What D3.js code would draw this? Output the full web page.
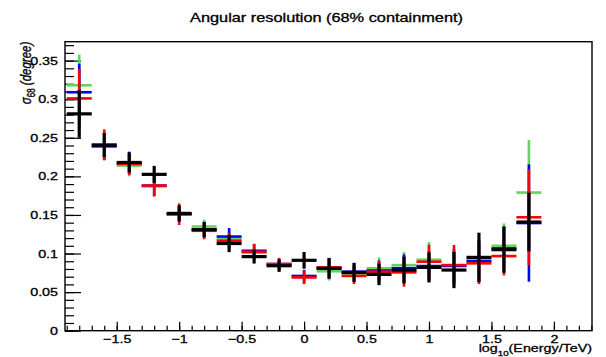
<!DOCTYPE html>
<html>
<head>
<meta charset="utf-8">
<script src="https://cdn.jsdelivr.net/npm/d3@7"></script>
<style>
    body { margin: 0; background: #fff; }
    svg { display: block; }
    text { font-family: "Liberation Sans", Arial, sans-serif; fill: #000; stroke: #000; stroke-width: 0.3; }
</style>
</head>
<body>
<div id="chart"></div>
<script>
// log10(Energy/TeV) bin centres
const energy = [-1.8, -1.6, -1.4, -1.2, -1.0, -0.8, -0.6, -0.4, -0.2, 0.0,
                0.2, 0.4, 0.6, 0.8, 1.0, 1.2, 1.4, 1.6, 1.8];
const binHalfWidth = 0.1;

// sigma_68 values and errors, one pair of arrays per series
const greenVal = [0.318, 0.239, 0.214, 0.187, 0.151, 0.135, 0.119, 0.101, 0.085, 0.070,
                  0.077, 0.074, 0.081, 0.085, 0.092, 0.084, 0.092, 0.110, 0.179];
const greenErr = [0.040, 0.018, 0.014, 0.013, 0.009, 0.009, 0.010, 0.008, 0.007, 0.008,
                  0.012, 0.010, 0.014, 0.017, 0.023, 0.020, 0.025, 0.029, 0.068];

const blueVal = [0.309, 0.239, 0.217, 0.188, 0.151, 0.131, 0.122, 0.1036, 0.0864, 0.0709,
                 0.081, 0.0765, 0.078, 0.081, 0.0838, 0.084, 0.090, 0.1067, 0.1395];
const blueErr = [0.037, 0.018, 0.015, 0.013, 0.010, 0.010, 0.011, 0.009, 0.007, 0.008,
                 0.013, 0.011, 0.013, 0.018, 0.020, 0.022, 0.027, 0.028, 0.076];

const redVal = [0.301, 0.241, 0.216, 0.188, 0.151, 0.1295, 0.1166, 0.1023, 0.0864, 0.069,
                0.082, 0.071, 0.0765, 0.0756, 0.0894, 0.085, 0.0873, 0.0967, 0.147];
const redErr = [0.038, 0.020, 0.014, 0.014, 0.014, 0.011, 0.010, 0.010, 0.008, 0.0087,
                0.012, 0.0105, 0.014, 0.0186, 0.022, 0.026, 0.027, 0.025, 0.062];

const blackVal = [0.281, 0.2405, 0.218, 0.2026, 0.152, 0.131, 0.113, 0.096, 0.0842, 0.0912,
                  0.0808, 0.0755, 0.073, 0.0786, 0.082, 0.0786, 0.095, 0.105, 0.1408];
const blackErr = [0.031, 0.0155, 0.013, 0.011, 0.0105, 0.010, 0.0112, 0.009, 0.008, 0.0108,
                  0.0135, 0.0125, 0.014, 0.0174, 0.0195, 0.0235, 0.032, 0.030, 0.038];

const xTicks = [-1.5, -1, -0.5, 0, 0.5, 1, 1.5, 2];
const yTicks = [0, 0.05, 0.1, 0.15, 0.2, 0.25, 0.3, 0.35];

// drawing order: green under, black on top
const series = [
    { color: '#5fd75f', width: 2.6, values: greenVal, errors: greenErr },
    { color: '#0000ff', width: 2.6, values: blueVal,  errors: blueErr },
    { color: '#ff0000', width: 2.6, values: redVal,   errors: redErr },
    { color: '#000000', width: 3.2, values: blackVal, errors: blackErr }
];

const W = 606, H = 357;
const frame = { left: 65, right: 592, top: 41.7, bottom: 330.7 };
// the picture's text is drawn wide, so glyphs get stretched sideways
const stretch = 1.3;

const x = d3.scaleLinear().domain([-1.914, 2.305]).range([frame.left, frame.right]);
const y = d3.scaleLinear().domain([0, 0.3745]).range([frame.bottom, frame.top]);

const svg = d3.select('#chart').append('svg')
    .attr('width', W)
    .attr('height', H);

svg.append('rect').attr('width', W).attr('height', H).attr('fill', '#fff');

const fmt = d => String(d).replace('-', '\u2212');

// minor ticks
svg.append('g')
    .attr('transform', `translate(0,${frame.bottom})`)
    .call(d3.axisBottom(x).tickValues(d3.range(-1.9, 2.31, 0.1)).tickSize(-5).tickSizeOuter(0).tickFormat(''))
    .call(g => g.select('.domain').remove());
svg.append('g')
    .attr('transform', `translate(${frame.left},0)`)
    .call(d3.axisLeft(y).tickValues(d3.range(0, 0.371, 0.01)).tickSize(-9).tickSizeOuter(0).tickFormat(''))
    .call(g => g.select('.domain').remove());

// major ticks with labels
const xAxis = svg.append('g')
    .attr('transform', `translate(0,${frame.bottom})`)
    .call(d3.axisBottom(x).tickValues(xTicks).tickSize(-9).tickSizeOuter(0).tickPadding(5).tickFormat(fmt));
xAxis.select('.domain').remove();
xAxis.selectAll('text')
    .attr('font-size', 11)
    .attr('transform', `scale(${stretch},1)`);

const yAxis = svg.append('g')
    .attr('transform', `translate(${frame.left},0)`)
    .call(d3.axisLeft(y).tickValues(yTicks).tickSize(-16).tickSizeOuter(0).tickPadding(7).tickFormat(fmt));
yAxis.select('.domain').remove();
yAxis.selectAll('text')
    .attr('font-size', 11)
    .attr('x', -7 / stretch)
    .attr('transform', `scale(${stretch},1)`);

svg.selectAll('.tick line').attr('stroke', '#000').attr('stroke-width', 1.2);

// frame
svg.append('rect')
    .attr('x', frame.left).attr('y', frame.top)
    .attr('width', frame.right - frame.left).attr('height', frame.bottom - frame.top)
    .attr('fill', 'none').attr('stroke', '#000').attr('stroke-width', 1.4);

// error crosses
series.forEach(s => {
    const g = svg.append('g').attr('stroke', s.color).attr('stroke-width', s.width);
    const pts = energy.map((e, i) => ({ e, v: s.values[i], err: s.errors[i] }));
    g.selectAll('line.h').data(pts).join('line').attr('class', 'h')
        .attr('x1', d => x(d.e - binHalfWidth)).attr('x2', d => x(d.e + binHalfWidth))
        .attr('y1', d => y(d.v)).attr('y2', d => y(d.v));
    g.selectAll('line.v').data(pts).join('line').attr('class', 'v')
        .attr('x1', d => x(d.e)).attr('x2', d => x(d.e))
        .attr('y1', d => y(d.v - d.err)).attr('y2', d => y(d.v + d.err));
});

// title
svg.append('text')
    .attr('transform', 'translate(326.5,22) scale(1.36,1)')
    .attr('text-anchor', 'middle')
    .attr('font-size', 12)
    .text('Angular resolution (68% containment)');

// x axis title
const xt = svg.append('text')
    .attr('transform', `translate(${frame.right},351.5) scale(${stretch},1)`)
    .attr('text-anchor', 'end')
    .attr('font-size', 11);
xt.append('tspan').text('log');
xt.append('tspan').attr('font-size', 7.5).attr('dy', 4).text('10');
xt.append('tspan').attr('dy', -4).text('(Energy/TeV)');

// y axis title
const yt = svg.append('text')
    .attr('transform', `translate(30.5,${frame.top}) scale(${stretch},1) rotate(-90)`)
    .attr('text-anchor', 'end')
    .attr('font-size', 11.5);
yt.append('tspan').attr('font-style', 'italic').text('\u03c3');
yt.append('tspan').attr('font-size', 8).attr('dy', 3.5).text('68');
yt.append('tspan').attr('dy', -3.5).attr('font-style', 'italic').text(' (degree)');
</script>
</body>
</html>
